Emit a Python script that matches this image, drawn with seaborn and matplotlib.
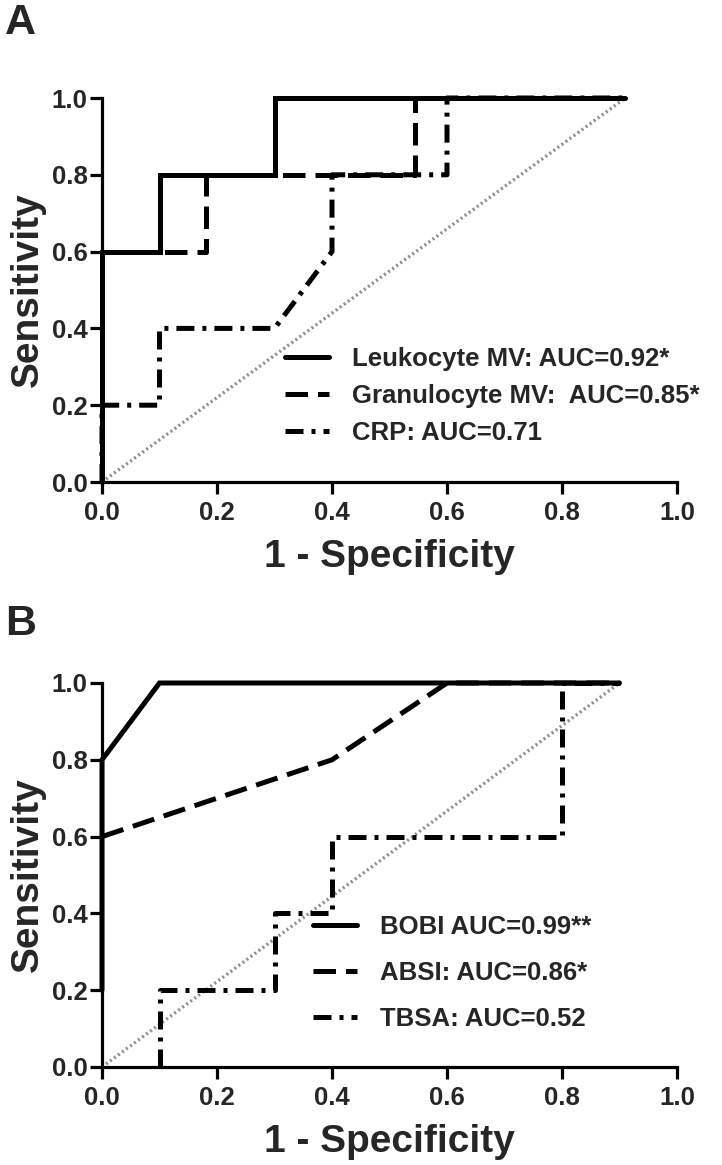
import matplotlib
matplotlib.use("Agg")
import matplotlib.pyplot as plt
import seaborn as sns
import pandas as pd

# ---------------- data ----------------
# Panel A
leuko_x = [0.0, 0.0, 0.1, 0.1, 0.3, 0.3, 0.91]
leuko_y = [0.0, 0.6, 0.6, 0.8, 0.8, 1.0, 1.0]
gran_x = [0.0, 0.0, 0.18, 0.18, 0.545, 0.545, 0.91]
gran_y = [0.0, 0.6, 0.6, 0.8, 0.8, 1.0, 1.0]
crp_x = [0.0, 0.0, 0.1, 0.1, 0.3, 0.4, 0.4, 0.6, 0.6, 0.91]
crp_y = [0.0, 0.2, 0.2, 0.4, 0.4, 0.6, 0.8, 0.8, 1.0, 1.0]
diagA_x = [0.0, 0.91]
diagA_y = [0.0, 1.0]
labelsA = ["Leukocyte MV: AUC=0.92*", "Granulocyte MV:  AUC=0.85*", "CRP: AUC=0.71"]

# Panel B
bobi_x = [0.0, 0.0, 0.1, 0.9]
bobi_y = [0.2, 0.8, 1.0, 1.0]
absi_x = [0.0, 0.4, 0.6, 0.9]
absi_y = [0.6, 0.8, 1.0, 1.0]
tbsa_x = [0.1, 0.1, 0.3, 0.3, 0.4, 0.4, 0.8, 0.8, 0.9]
tbsa_y = [0.0, 0.2, 0.2, 0.4, 0.4, 0.6, 0.6, 1.0, 1.0]
diagB_x = [0.0, 0.9]
diagB_y = [0.0, 1.0]
labelsB = ["BOBI AUC=0.99**", "ABSI: AUC=0.86*", "TBSA: AUC=0.52"]

ticks = [0.0, 0.2, 0.4, 0.6, 0.8, 1.0]
tick_labels = ["0.0", "0.2", "0.4", "0.6", "0.8", "1.0"]
xlabel = "1 - Specificity"
ylabel = "Sensitivity"
panel_labels = ["A", "B"]

# ---------------- style ----------------
sns.set_style("ticks")
plt.rcParams["font.family"] = ["Liberation Sans", "DejaVu Sans"]
plt.rcParams["font.weight"] = "bold"

W, H = 722, 1165
fig = plt.figure(figsize=(W / 100, H / 100), dpi=100)

def px_axes(left, top, right, bottom):
    return fig.add_axes([left / W, 1 - bottom / H, (right - left) / W, (bottom - top) / H])

axA = px_axes(102, 98, 677, 482)
axB = px_axes(102, 683, 677, 1067)

LW = 3.6
SOLID = "-"
DASH = (0, (4.5, 2.0))
DASHDOT = (0, (3.6, 1.6, 0.8, 1.6))
DOTTED = (0, (0.6, 0.9))


def draw(ax, x, y, ls, label=None, color="black", lw=LW, zorder=3):
    df = pd.DataFrame({"x": x, "y": y})
    sns.lineplot(data=df, x="x", y="y", sort=False, estimator=None, ax=ax,
                 color=color, linewidth=lw, linestyle=ls, label=label,
                 clip_on=False, zorder=zorder, solid_joinstyle="miter",
                 dash_capstyle="butt")


def style_axes(ax):
    ax.set_xlim(0, 1)
    ax.set_ylim(0, 1)
    ax.set_xticks(ticks)
    ax.set_yticks(ticks)
    ax.set_xticklabels(tick_labels)
    ax.set_yticklabels(tick_labels)
    for s in ["top", "right"]:
        ax.spines[s].set_visible(False)
    for s in ["left", "bottom"]:
        ax.spines[s].set_linewidth(2.3)
        ax.spines[s].set_color("black")
    ax.tick_params(direction="out", length=8.5, width=2.3, color="black",
                   labelsize=18.5)
    ax.tick_params(axis="x", pad=5)
    ax.tick_params(axis="y", pad=2)
    for t in ax.get_xticklabels() + ax.get_yticklabels():
        t.set_fontweight("heavy")
    ax.set_xlabel(xlabel, fontsize=28, fontweight="bold", labelpad=10)
    ax.set_ylabel(ylabel, fontsize=28, fontweight="bold", labelpad=4)
    ax.grid(False)


# Panel A
draw(axA, diagA_x, diagA_y, DOTTED, color="#8c8c8c", lw=2.4, zorder=2)
draw(axA, leuko_x, leuko_y, SOLID, labelsA[0])
draw(axA, gran_x, gran_y, DASH, labelsA[1])
draw(axA, crp_x, crp_y, DASHDOT, labelsA[2])
style_axes(axA)

# Panel B
draw(axB, diagB_x, diagB_y, DOTTED, color="#8c8c8c", lw=2.4, zorder=2)
draw(axB, bobi_x, bobi_y, SOLID, labelsB[0])
draw(axB, absi_x, absi_y, DASH, labelsB[1])
draw(axB, tbsa_x, tbsa_y, DASHDOT, labelsB[2])
style_axes(axB)

# Legends
legA = axA.legend(loc="upper left", bbox_to_anchor=(0.318, 0.352), frameon=False,
                  prop={"size": 18.5, "weight": "bold"}, handlelength=1.7,
                  handletextpad=0.9, labelspacing=0.5, borderpad=0, borderaxespad=0)
legB = axB.legend(loc="upper left", bbox_to_anchor=(0.367, 0.395), frameon=False,
                  prop={"size": 18.5, "weight": "bold"}, handlelength=1.7,
                  handletextpad=0.9, labelspacing=0.85, borderpad=0, borderaxespad=0)

fig.text(5 / W, 1 - 3 / H, panel_labels[0], fontsize=31, fontweight="bold",
         ha="left", va="top")
fig.text(5 / W, 1 - 604 / H, panel_labels[1], fontsize=31, fontweight="bold",
         ha="left", va="top")

fig.savefig("out.png", dpi=100)
